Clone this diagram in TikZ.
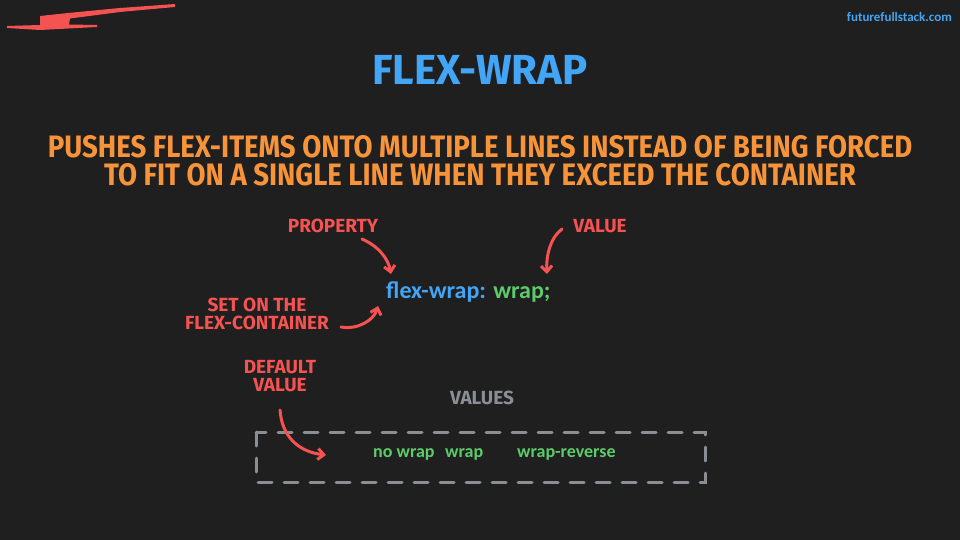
\documentclass[tikz,border=0pt]{standalone}
\usepackage{fontspec}
\setmainfont{Fira Sans}
\newfontfamily\handfont{Fira Sans}[UprightFont=* Bold]
\newfontfamily\codefont{Carlito}[UprightFont=* Bold]
\usetikzlibrary{arrows.meta}
\definecolor{bg}{HTML}{1F1F1F}
\definecolor{ttlblue}{HTML}{42A5F5}
\definecolor{orng}{HTML}{F7943A}
\definecolor{redc}{HTML}{F55252}
\definecolor{grn}{HTML}{5CCB6A}
\definecolor{gry}{HTML}{8A8E95}
\tikzset{
  hand/.style={font=\handfont, inner sep=0pt, align=center},
  note/.style={hand, text=redc, font=\handfont\fontsize{19}{18}\selectfont},
  subline/.style={hand, text=orng, font=\handfont\fontsize{31}{30}\selectfont},
  pointer/.style={draw=redc, line width=3pt, line cap=round, -{Straight Barb[length=6pt,width=11pt,line width=3pt]}},
  code/.style={font=\codefont, inner sep=0pt},
  valtxt/.style={code, text=grn, font=\codefont\fontsize{18}{20}\selectfont, anchor=west}
}
\begin{document}
\begin{tikzpicture}[x=1pt,y=-1pt]
\fill[bg] (0,0) rectangle (960,540);
\useasboundingbox (0,0) rectangle (960,540);
% brush stroke
\fill[redc] (7,26) -- (40,25) -- (40,16) -- (68,13) -- (120,8) -- (175,4) -- (175,7) -- (120,12) -- (70,18.5) -- (69,24.5) -- (97,25) -- (97,27) -- (40,30) -- (7,28) -- cycle;
\node[code, text=ttlblue, font=\codefont\fontsize{13}{15}\selectfont, anchor=east] (site) at (952,17) {futurefullstack.com};
\node[hand, text=ttlblue, font=\handfont\fontsize{42}{44}\selectfont] (title) at (480,70) {FLEX-WRAP};
\node[subline] (sub1) at (480,147) {\scalebox{0.89}[1]{PUSHES FLEX-ITEMS ONTO MULTIPLE LINES INSTEAD OF BEING FORCED}};
\node[subline] (sub2) at (480,175) {\scalebox{0.89}[1]{TO FIT ON A SINGLE LINE WHEN THEY EXCEED THE CONTAINER}};
\node[code, font=\codefont\fontsize{24}{26}\selectfont, anchor=west] (codeline) at (386,292) {\textcolor{ttlblue}{flex-wrap:} \textcolor{grn}{wrap;}};
\node[note] (prop) at (333,226) {PROPERTY};
\node[note] (val) at (600,226) {VALUE};
\node[note] (seton) at (257,314) {SET ON THE\\FLEX-CONTAINER};
\node[note] (deflt) at (280,376) {DEFAULT\\VALUE};
\node[hand, text=gry, font=\handfont\fontsize{19}{20}\selectfont] (valhead) at (482,398) {VALUES};
\draw[gry, line width=3pt, line cap=round, dash pattern=on 14pt off 12pt] (256,432) rectangle (705,482);
\node[valtxt] (v1) at (373,454) {no wrap};
\node[valtxt] (v2) at (445,454) {wrap};
\node[valtxt] (v3) at (517,454) {wrap-reverse};
% arrow endpoints
\coordinate (p0) at (362,239);
\coordinate (p1) at (391,274);
\coordinate (q0) at (562,229);
\coordinate (q1) at (547,274);
\coordinate (s0) at (341,327);
\coordinate (s1) at (378,306);
\coordinate (d0) at (280,410);
\coordinate (d1) at (326,455);
\draw[pointer] (p0) .. controls (378,246) and (388,258) .. (p1);
\draw[pointer] (q0) .. controls (550,238) and (546,256) .. (q1);
\draw[pointer] (s0) .. controls (358,330) and (374,320) .. (s1);
\draw[pointer] (d0) .. controls (282,438) and (300,452) .. (d1);
\end{tikzpicture}
\end{document}
